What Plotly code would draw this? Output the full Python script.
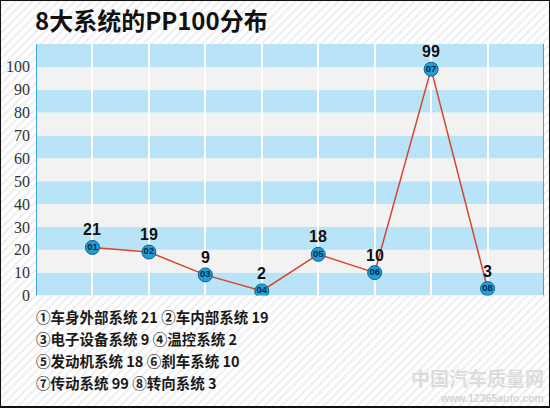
import plotly.graph_objects as go

# ---- data ----
categories = [1, 2, 3, 4, 5, 6, 7, 8]
point_ids = ["01", "02", "03", "04", "05", "06", "07", "08"]
pp100 = [21, 19, 9, 2, 18, 10, 99, 3]
value_labels = ["21", "19", "9", "2", "18", "10", "99", "3"]
y_ticks = [0, 10, 20, 30, 40, 50, 60, 70, 80, 90, 100]
title_text = "8大系统的PP100分布"
legend_lines = [
    "①车身外部系统 21 ②车内部系统 19",
    "③电子设备系统 9 ④温控系统 2",
    "⑤发动机系统 18 ⑥刹车系统 10",
    "⑦传动系统 99 ⑧转向系统 3",
]
watermark_lines = ["中国汽车质量网", "www.12365auto.com"]

W, H = 550, 416
x0, x1 = 36 / W, 544 / W
yb, yt = 1 - 302 / H, 1 - 45 / H

fig = go.Figure()

# hatched background outside the plot area (full-page helper axis x/y)
hx = [0, 1, 1, 0, 0, None,
      0, 1, 1, 0, 0, None,
      0, x0, x0, 0, 0, None,
      x1, 1, 1, x1, x1]
hy = [yt, yt, 1, 1, yt, None,
      0, 0, yb, yb, 0, None,
      yb, yb, yt, yt, yb, None,
      yb, yb, yt, yt, yb]
fig.add_trace(go.Scatter(
    x=hx, y=hy, xaxis="x", yaxis="y", mode="lines", fill="toself",
    line=dict(width=0), fillcolor="white",
    fillpattern=dict(shape="/", fgcolor="#dedede", bgcolor="white", size=6, solidity=0.35),
    hoverinfo="skip", showlegend=False))

# line + markers (main chart on x2/y2)
fig.add_trace(go.Scatter(
    x=categories, y=pp100, xaxis="x2", yaxis="y2", mode="lines+markers",
    line=dict(color="#d8432e", width=1.5),
    marker=dict(size=14, color="#1d9fdb", line=dict(color="#0d5e86", width=1)),
    showlegend=False, hoverinfo="skip"))
# ids inside markers
fig.add_trace(go.Scatter(
    x=categories, y=pp100, xaxis="x2", yaxis="y2", mode="text",
    text=[f"<b>{t}</b>" for t in point_ids], textposition="middle center",
    textfont=dict(family="Liberation Sans", size=9.5, color="#0a2540"),
    showlegend=False, hoverinfo="skip"))

shapes = []
for lo in range(0, 110, 10):
    col = "#b9e3f6" if (lo // 10) % 2 == 0 else "#f2f2f2"
    shapes.append(dict(type="rect", xref="x2", yref="y2", x0=0, x1=9, y0=lo, y1=lo + 10,
                       fillcolor=col, line=dict(width=0), layer="below"))
for xv in (0, 9):
    shapes.append(dict(type="line", xref="x2", yref="y2", x0=xv, x1=xv, y0=0, y1=110,
                       line=dict(color="#3aa8d8", width=2)))
shapes.append(dict(type="rect", xref="paper", yref="paper", x0=0, x1=1, y0=0, y1=1,
                   line=dict(color="#111111", width=2)))

annotations = []
for xv, yv, t in zip(categories, pp100, value_labels):
    annotations.append(dict(
        text=f"<b>{t}</b>", xref="x2", yref="y2", x=xv, y=yv, xanchor="center",
        yanchor="bottom", yshift=7, showarrow=False,
        font=dict(family="Liberation Sans", size=16, color="#111111")))
annotations.append(dict(
    text=f"<b>{title_text}</b>", xref="paper", yref="paper", x=33 / W, y=1 - 20 / H,
    xanchor="left", yanchor="middle", showarrow=False,
    font=dict(family="Noto Sans CJK SC", size=24, color="#111111")))
for i, line in enumerate(legend_lines):
    annotations.append(dict(
        text=f"<b>{line}</b>", xref="paper", yref="paper", x=34 / W, y=1 - (323 + i * 22.5) / H,
        xanchor="left", yanchor="middle", showarrow=False,
        font=dict(family="Noto Sans CJK SC", size=14.5, color="#1a1a1a")))
annotations.append(dict(
    text=f"<b>{watermark_lines[0]}</b>", xref="paper", yref="paper", x=546 / W, y=1 - 386 / H,
    xanchor="right", yanchor="middle", showarrow=False,
    font=dict(family="Noto Sans CJK SC", size=19, color="#dcdcdc")))
annotations.append(dict(
    text=f"<b>{watermark_lines[1]}</b>", xref="paper", yref="paper", x=546 / W, y=1 - 407 / H,
    xanchor="right", yanchor="middle", showarrow=False,
    font=dict(family="Liberation Sans", size=10.5, color="#d4d4d4")))

fig.update_layout(
    width=W, height=H,
    margin=dict(l=0, r=0, t=0, b=0),
    paper_bgcolor="white", plot_bgcolor="rgba(0,0,0,0)",
    shapes=shapes, annotations=annotations,
    xaxis=dict(domain=[0, 1], range=[0, 1], visible=False, anchor="y"),
    yaxis=dict(domain=[0, 1], range=[0, 1], visible=False, anchor="x"),
    xaxis2=dict(domain=[x0, x1], range=[0, 9], tickvals=categories, showticklabels=False,
                showgrid=True, gridcolor="white", gridwidth=1.5, zeroline=False,
                showline=False, ticks="", anchor="y2"),
    yaxis2=dict(domain=[yb, yt], range=[0, 110], tickvals=y_ticks, showgrid=False,
                zeroline=False, showline=False, ticks="", ticklabelstandoff=5, anchor="x2",
                tickfont=dict(family="Liberation Serif", size=16, color="#333333")),
)

fig.write_html(
    "out.html",
    config={"displayModeBar": False},
    post_script="document.body.style.margin='0px';document.body.style.overflow='hidden';"
                "document.documentElement.style.overflow='hidden';",
)
